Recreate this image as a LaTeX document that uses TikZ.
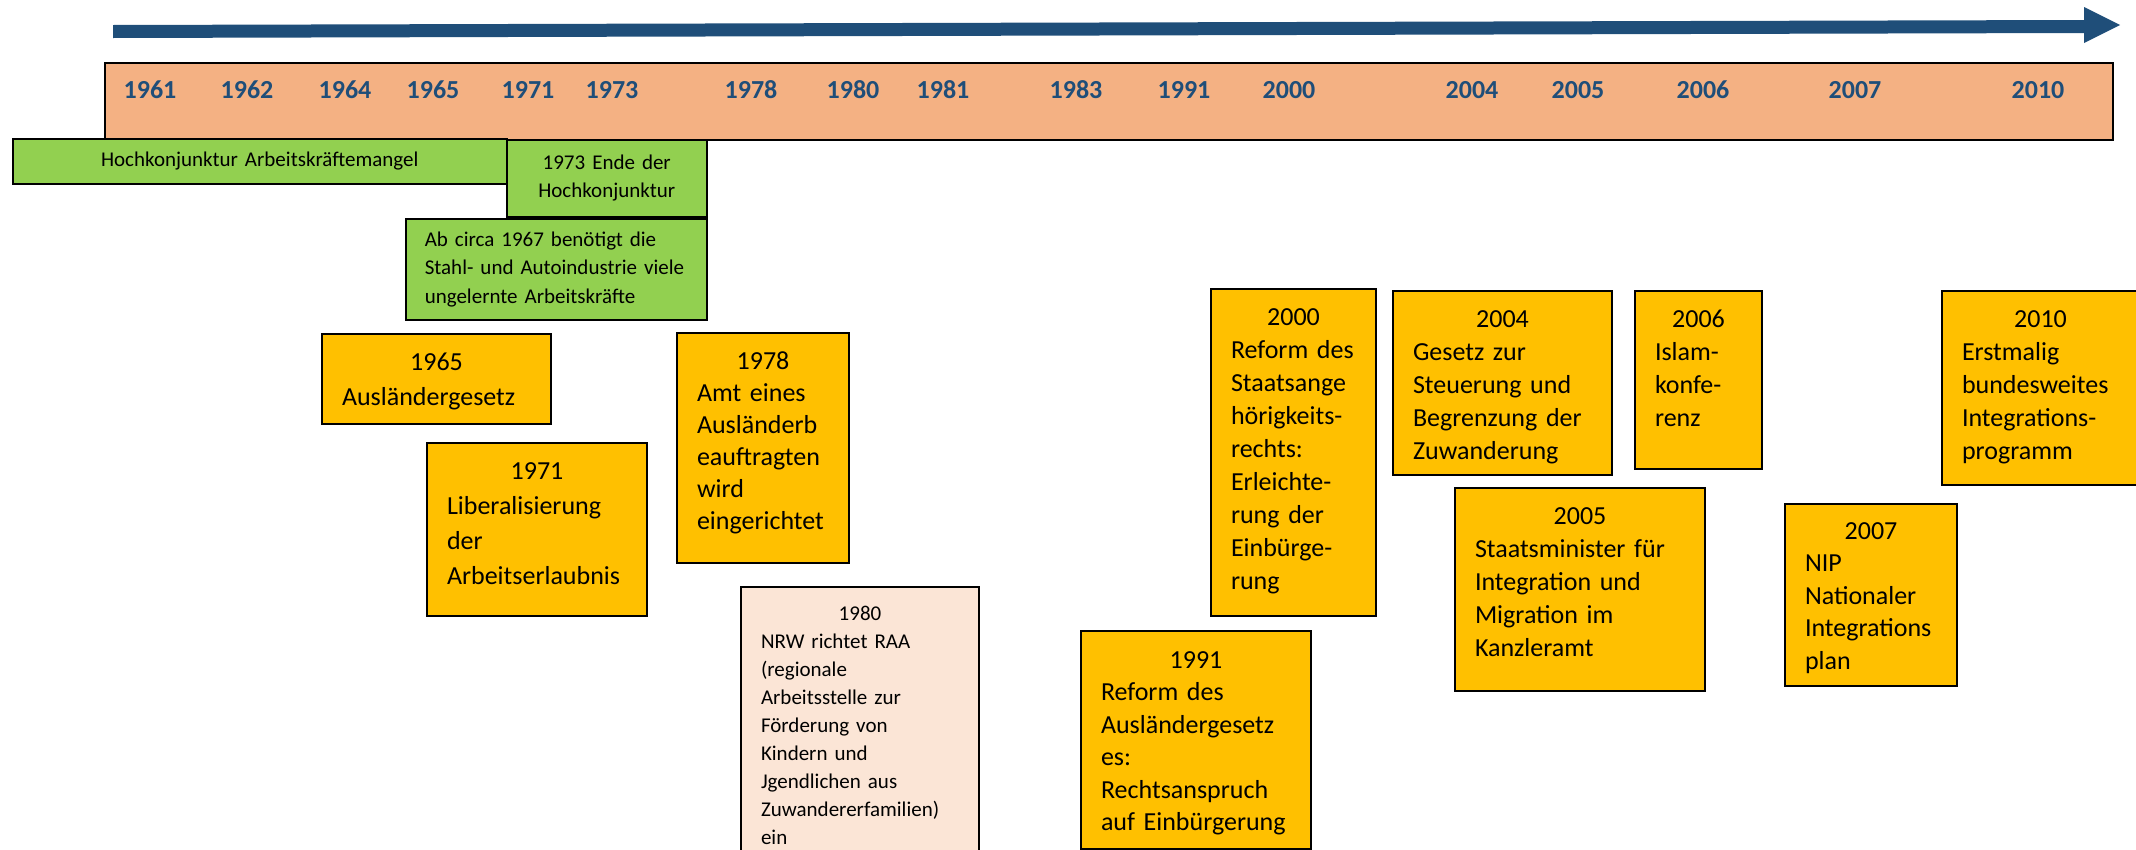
\documentclass[tikz,border=0pt]{standalone}
\usepackage{fontspec}
\setmainfont{Carlito}
\setlength{\parindent}{0pt}
\definecolor{arrowblue}{HTML}{1F4E79}
\definecolor{yearblue}{HTML}{1F4E79}
\definecolor{bandfill}{HTML}{F4B183}
\definecolor{goldfill}{HTML}{FFC000}
\definecolor{greenfill}{HTML}{92D050}
\definecolor{peachfill}{HTML}{FBE5D6}
\tikzset{
  year/.style={font=\fontsize{26}{26}\selectfont\bfseries, text=yearblue, inner sep=0pt},
  goldbox/.style={draw=black, line width=2pt, fill=goldfill, anchor=north west,
    inner xsep=20pt, inner ysep=0pt, font=\fontsize{26}{33}\selectfont},
  peachbox/.style={goldbox, fill=peachfill, font=\fontsize{21}{28}\selectfont},
  greenbox/.style={draw=black, line width=1.5pt, fill=greenfill, anchor=north west,
    inner xsep=19pt, inner ysep=0pt, font=\fontsize{21}{28.3}\selectfont},
}
\begin{document}
\begin{tikzpicture}[x=1pt,y=-1pt]
\useasboundingbox (0,0) rectangle (2136,849);
\clip (0,0) rectangle (2136,849);

% timeline arrow
\fill[arrowblue] (113,25) -- (2084,20) -- (2084,7) -- (2120,25) -- (2084,43) -- (2084,33) -- (113,38) -- cycle;

% year band
\node[draw=black, line width=2pt, fill=bandfill, anchor=north west, minimum width=2008pt, minimum height=77pt, inner sep=0pt] (band) at (104,62) {};

\node[year] (y1961) at (150,90) {1961};
\node[year] (y1962) at (247,90) {1962};
\node[year] (y1964) at (345,90) {1964};
\node[year] (y1965) at (433,90) {1965};
\node[year] (y1971) at (528,90) {1971};
\node[year] (y1973) at (612,90) {1973};
\node[year] (y1978) at (751,90) {1978};
\node[year] (y1980) at (853,90) {1980};
\node[year] (y1981) at (943,90) {1981};
\node[year] (y1983) at (1076,90) {1983};
\node[year] (y1991) at (1184,90) {1991};
\node[year] (y2000) at (1289,90) {2000};
\node[year] (y2004) at (1472,90) {2004};
\node[year] (y2005) at (1578,90) {2005};
\node[year] (y2006) at (1703,90) {2006};
\node[year] (y2007) at (1855,90) {2007};
\node[year] (y2010) at (2038,90) {2010};

% green boxes
\node[greenbox, text width=456pt, minimum height=45pt, align=center] (g1) at (12,138) {Hochkonjunktur Arbeitskräftemangel};
\node[greenbox, text width=162pt, minimum height=77pt, align=center] (g2) at (506,139) {1973 Ende der\\Hochkonjunktur};
\node[greenbox, text width=263pt, minimum height=101pt] (g3) at (405,218) {\raggedright\mbox{Ab circa 1967 benötigt die}\\\mbox{Stahl- und Autoindustrie viele}\\\mbox{ungelernte Arbeitskräfte}};

% event boxes
\node[goldbox, text width=189pt, text height=36pt, text depth=54pt, font=\fontsize{26}{35}\selectfont] (b1965) at (321,333)
  {{\centering 1965\par}\raggedright\mbox{Ausländergesetz}};
\node[goldbox, text width=180pt, text height=36pt, text depth=137pt, font=\fontsize{26}{35}\selectfont] (b1971) at (426,442)
  {{\centering 1971\par}\raggedright\mbox{Liberalisierung}\\\mbox{der}\\\mbox{Arbeitserlaubnis}};
\node[goldbox, text width=132pt, text height=36pt, text depth=194pt, font=\fontsize{26}{32}\selectfont] (b1978) at (676,332)
  {{\centering 1978\par}\raggedright\mbox{Amt eines}\\\mbox{Ausländerb}\\\mbox{eauftragten}\\\mbox{wird}\\\mbox{eingerichtet}};
\node[peachbox, text width=198pt, text height=33pt, text depth=243pt] (b1980) at (740,586)
  {{\centering 1980\par}\raggedright\mbox{NRW richtet RAA}\\\mbox{(regionale}\\\mbox{Arbeitsstelle zur}\\\mbox{Förderung von}\\\mbox{Kindern und}\\\mbox{Jgendlichen aus}\\\mbox{Zuwandererfamilien)}\\\mbox{ein}};
\node[goldbox, text width=190pt, text height=37pt, text depth=181pt, font=\fontsize{26}{32.5}\selectfont] (b1991) at (1080,630)
  {{\centering 1991\par}\raggedright\mbox{Reform des}\\\mbox{Ausländergesetz}\\\mbox{es:}\\\mbox{Rechtsanspruch}\\\mbox{auf Einbürgerung}};
\node[goldbox, text width=125pt, text height=36pt, text depth=291pt] (b2000) at (1210,288)
  {{\centering 2000\par}\raggedright\mbox{Reform des}\\\mbox{Staatsange}\\\mbox{hörigkeits-}\\\mbox{rechts:}\\\mbox{Erleichte-}\\\mbox{rung der}\\\mbox{Einbürge-}\\\mbox{rung}};
\node[goldbox, text width=179pt, text height=36pt, text depth=148pt] (b2004) at (1392,290)
  {{\centering 2004\par}\raggedright\mbox{Gesetz zur}\\\mbox{Steuerung und}\\\mbox{Begrenzung der}\\\mbox{Zuwanderung}};
\node[goldbox, text width=87pt, text height=36pt, text depth=142pt] (b2006) at (1634,290)
  {{\centering 2006\par}\raggedright\mbox{Islam-}\\\mbox{konfe-}\\\mbox{renz}};
\node[goldbox, text width=157pt, text height=36pt, text depth=158pt] (b2010) at (1941,290)
  {{\centering 2010\par}\raggedright\mbox{Erstmalig}\\\mbox{bundesweites}\\\mbox{Integrations-}\\\mbox{programm}};
\node[goldbox, text width=210pt, text height=36pt, text depth=167pt] (b2005) at (1454,487)
  {{\centering 2005\par}\raggedright\mbox{Staatsminister für}\\\mbox{Integration und}\\\mbox{Migration im}\\\mbox{Kanzleramt}};
\node[goldbox, text width=132pt, text height=35pt, text depth=147pt, font=\fontsize{26}{32.5}\selectfont] (b2007) at (1784,503)
  {{\centering 2007\par}\raggedright\mbox{NIP}\\\mbox{Nationaler}\\\mbox{Integrations}\\\mbox{plan}};
\end{tikzpicture}
\end{document}
